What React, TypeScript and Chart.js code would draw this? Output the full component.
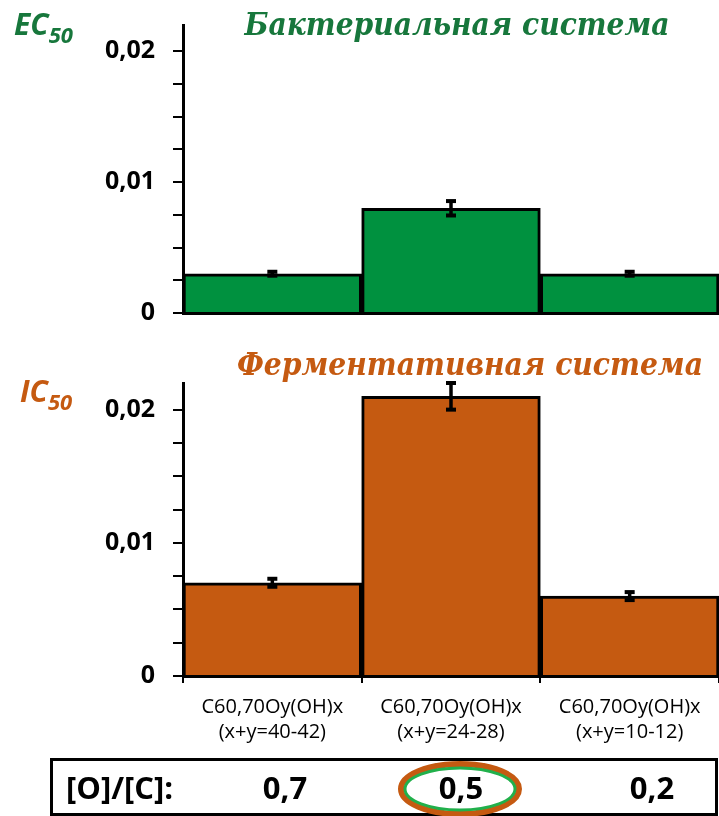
import React, { useEffect, useRef } from 'react';
import { Chart, registerables } from 'chart.js';

Chart.register(...registerables);

// ---- data ----
const categories: string[][] = [
  ['C60,70Oy(OH)x', '(x+y=40-42)'],
  ['C60,70Oy(OH)x', '(x+y=24-28)'],
  ['C60,70Oy(OH)x', '(x+y=10-12)'],
];
const bacterialValues = [0.003, 0.008, 0.003];
const bacterialErrors = [0.00015, 0.00055, 0.00015];
const enzymeValues = [0.007, 0.021, 0.006];
const enzymeErrors = [0.0003, 0.001, 0.0003];
const majorTicks = [0, 0.01, 0.02];
const majorTickLabels = ['0', '0,01', '0,02'];
const minorStep = 0.0025;
const yMax = 0.022;
const bacterialTitle = 'Бактериальная система';
const enzymeTitle = 'Ферментативная система';
const bacterialAxisLabel = 'EC';
const enzymeAxisLabel = 'IC';
const axisSubscript = '50';
const ratioLabel = '[O]/[C]:';
const ratioValues = ['0,7', '0,5', '0,2'];

// ---- styles ----
const BAR_GREEN = '#00913F';
const TITLE_GREEN = '#17773C';
const ORANGE = '#C55A11';
const OVAL_GREEN = '#21B04B';

const errorBarPlugin = {
  id: 'errorBars',
  afterDatasetsDraw(chart: any) {
    const ctx = chart.ctx;
    const ds = chart.data.datasets[0] as any;
    const meta = chart.getDatasetMeta(0);
    const y = chart.scales.y;
    ctx.save();
    ctx.fillStyle = '#000';
    ctx.strokeStyle = '#000';
    ctx.lineWidth = 3.5;
    meta.data.forEach((bar: any, i: number) => {
      const v = ds.data[i];
      const e = ds.errors[i];
      const yt = y.getPixelForValue(v + e);
      const yb = y.getPixelForValue(v - e);
      ctx.beginPath();
      ctx.moveTo(bar.x, yt);
      ctx.lineTo(bar.x, yb);
      ctx.stroke();
      ctx.fillRect(bar.x - 5, yt - 2, 10, 4);
      ctx.fillRect(bar.x - 5, yb - 2, 10, 4);
    });
    ctx.restore();
  },
};

function makeConfig(values: number[], errors: number[], color: string, showX: boolean, padTop: number, xHeight: number): any {
  return {
    type: 'bar',
    data: {
      labels: categories,
      datasets: [
        {
          data: values,
          errors,
          backgroundColor: color,
          borderColor: '#000',
          borderWidth: 3,
          categoryPercentage: 1,
          barPercentage: 1,
        },
      ],
    },
    plugins: [errorBarPlugin],
    options: {
      responsive: false,
      animation: false,
      layout: { padding: { top: padTop, left: 0, right: 0, bottom: 0 } },
      plugins: { legend: { display: false }, tooltip: { enabled: false }, title: { display: false } },
      scales: {
        x: {
          afterFit: (s: any) => {
            s.height = xHeight;
            s.paddingLeft = 0;
            s.paddingRight = 0;
            s.paddingTop = 0;
            s.paddingBottom = 0;
          },
          ticks: {
            display: showX,
            color: '#000',
            padding: 12,
            maxRotation: 0,
            autoSkip: false,
            font: { family: 'Open Sans', size: 20, lineHeight: 1.25 },
          },
          grid: {
            display: true,
            drawOnChartArea: false,
            drawTicks: showX,
            tickLength: 7,
            color: '#000',
            lineWidth: 2,
            offset: true,
          },
          border: { display: true, color: '#000', width: 3 },
        },
        y: {
          min: 0,
          max: yMax,
          bounds: 'data',
          afterFit: (s: any) => {
            s.width = 183;
            s.paddingTop = 0;
            s.paddingBottom = 0;
            s.paddingLeft = 0;
            s.paddingRight = 0;
          },
          afterBuildTicks: (s: any) => {
            const n = Math.round(majorTicks[majorTicks.length - 1] / minorStep);
            const list: any[] = [];
            for (let i = 0; i <= n; i++) list.push({ value: Math.round(i * minorStep * 1e6) / 1e6 });
            s.ticks = list;
          },
          ticks: {
            stepSize: minorStep,
            autoSkip: false,
            padding: 18,
            color: '#000',
            font: { family: 'Open Sans', weight: 'bold', size: 25 },
            callback: (v: number) => {
              const idx = majorTicks.findIndex((m) => Math.abs(m - v) < 1e-9);
              return idx >= 0 ? majorTickLabels[idx] : '';
            },
          },
          grid: {
            display: true,
            drawOnChartArea: false,
            drawTicks: true,
            tickLength: 10,
            color: '#000',
            lineWidth: 2,
          },
          border: { display: true, color: '#000', width: 3 },
        },
      },
    },
  };
}

export default function App() {
  const topRef = useRef<HTMLCanvasElement>(null);
  const botRef = useRef<HTMLCanvasElement>(null);

  useEffect(() => {
    const c1 = new Chart(topRef.current as HTMLCanvasElement, makeConfig(bacterialValues, bacterialErrors, BAR_GREEN, false, 25, 17));
    const c2 = new Chart(botRef.current as HTMLCanvasElement, makeConfig(enzymeValues, enzymeErrors, ORANGE, true, 43, 84));
    return () => {
      c1.destroy();
      c2.destroy();
    };
  }, []);

  const ratioX = [285, 461, 652];

  return (
    <div style={{ position: 'absolute', left: 0, top: 0, width: 719, height: 816, background: '#fff', overflow: 'hidden' }}>
      <canvas ref={topRef} width={719} height={330} style={{ position: 'absolute', left: 0, top: 0 }} />
      <canvas ref={botRef} width={719} height={420} style={{ position: 'absolute', left: 0, top: 340 }} />
      <svg width={719} height={816} style={{ position: 'absolute', left: 0, top: 0, pointerEvents: 'none' }}>
        <text
          x={457}
          y={35}
          textAnchor="middle"
          fontFamily="DejaVu Serif"
          fontWeight="bold"
          fontStyle="italic"
          fontSize={31}
          fill={TITLE_GREEN}
          textLength={425}
          lengthAdjust="spacingAndGlyphs"
        >
          {bacterialTitle}
        </text>
        <text
          x={470}
          y={375}
          textAnchor="middle"
          fontFamily="DejaVu Serif"
          fontWeight="bold"
          fontStyle="italic"
          fontSize={31}
          fill={ORANGE}
          textLength={466}
          lengthAdjust="spacingAndGlyphs"
        >
          {enzymeTitle}
        </text>
        <text x={14} y={35} fontFamily="Open Sans" fontWeight="bold" fontStyle="italic" fontSize={30} fill={TITLE_GREEN}>
          {bacterialAxisLabel}
          <tspan fontSize={22} dy={8}>
            {axisSubscript}
          </tspan>
        </text>
        <text x={20} y={402} fontFamily="Open Sans" fontWeight="bold" fontStyle="italic" fontSize={30} fill={ORANGE}>
          {enzymeAxisLabel}
          <tspan fontSize={22} dy={8}>
            {axisSubscript}
          </tspan>
        </text>
        <rect x={51.5} y={759.5} width={665} height={55} fill="none" stroke="#000" strokeWidth={3} />
        <text x={66} y={799} fontFamily="Open Sans" fontWeight="bold" fontSize={31} fill="#000">
          {ratioLabel}
        </text>
        <ellipse cx={460} cy={789} rx={59} ry={25} fill="none" stroke={ORANGE} strokeWidth={6} />
        <ellipse cx={460} cy={789} rx={55} ry={21} fill="none" stroke={OVAL_GREEN} strokeWidth={3} />
        {ratioValues.map((v, i) => (
          <text key={i} x={ratioX[i]} y={799} textAnchor="middle" fontFamily="Open Sans" fontWeight="bold" fontSize={31} fill="#000">
            {v}
          </text>
        ))}
      </svg>
    </div>
  );
}
